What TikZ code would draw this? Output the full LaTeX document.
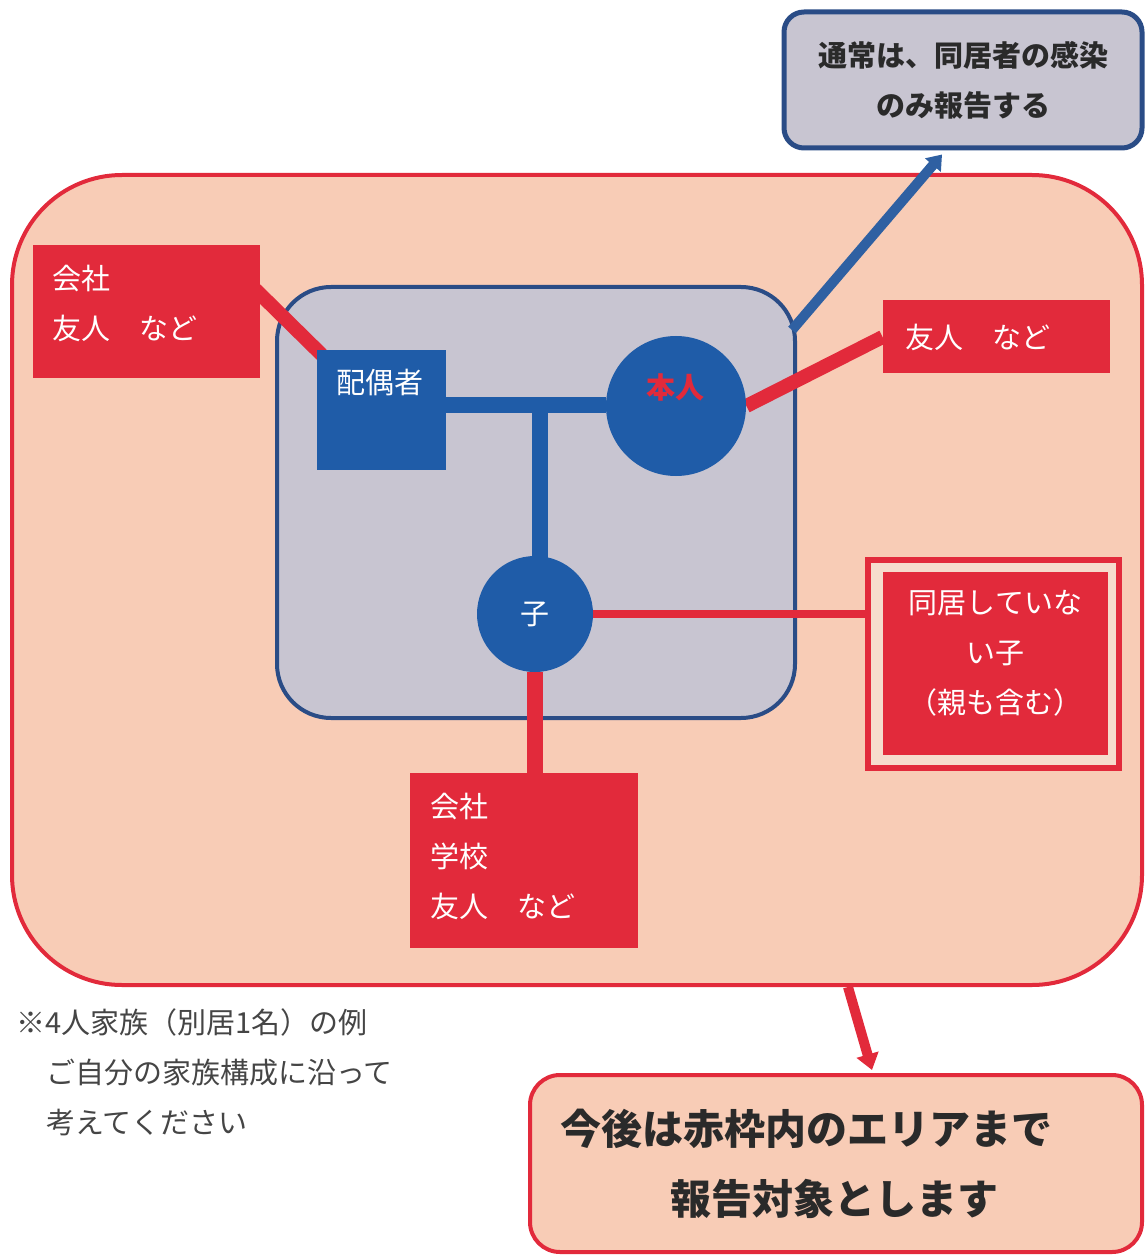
\documentclass[tikz,border=0pt]{standalone}
\usepackage{fontspec}
\setmainfont{Noto Sans CJK JP}
\usetikzlibrary{arrows.meta,calc}

\definecolor{momo}{HTML}{F8CCB6}
\definecolor{usumomo}{HTML}{F6DCCD}
\definecolor{aka}{HTML}{E22A3B}
\definecolor{ai}{HTML}{1F5CA8}
\definecolor{aiya}{HTML}{2F60A2}
\definecolor{kon}{HTML}{2A4C86}
\definecolor{nezumi}{HTML}{C8C5D1}
\definecolor{sumi}{HTML}{2A2A2A}
\definecolor{hai}{HTML}{454545}

\pgfdeclarelayer{haikei}
\pgfdeclarelayer{sen}
\pgfsetlayers{haikei,sen,main}

\begin{document}
\begin{tikzpicture}[x=0.5pt,y=-0.5pt]

\newcommand{\moji}{\fontsize{14.5pt}{25pt}\selectfont}
\newcommand{\oomoji}{\fontsize{20.5pt}{35pt}\selectfont\bfseries}

\tikzstyle{akabako}=[rectangle,fill=aka,text=white,inner sep=0,align=left,font=\moji]
\tikzstyle{shiromoji}=[inner sep=0,text=white,align=left,font=\moji]
\tikzstyle{aimaru}=[circle,fill=ai,inner sep=0]
\tikzstyle{akasen}=[aka,line width=7pt]
\tikzstyle{aisen}=[ai,line width=8pt]
\tikzstyle{yajirushi}=[line width=5pt,-{Triangle[length=8pt,width=11pt]}]

\useasboundingbox (0,0) rectangle (1144,1256);

\begin{pgfonlayer}{haikei}
    \node[rectangle,draw=aka,fill=momo,line width=2pt,rounded corners=55pt,
          minimum width=565pt,minimum height=405pt] (waku) at (577,580) {};
    \node[rectangle,draw=kon,fill=nezumi,line width=2pt,rounded corners=27pt,
          minimum width=259pt,minimum height=215.5pt] (kazoku) at (536,502.5) {};
\end{pgfonlayer}

\node[rectangle,draw=kon,fill=nezumi,line width=2.5pt,rounded corners=10pt,
      minimum width=179pt,minimum height=68pt,align=center,text=sumi,
      font=\moji\bfseries] (tsujo) at (963,80) {通常は、同居者の感染\\のみ報告する};

\node[rectangle,fill=ai,inner sep=0,minimum width=64.5pt,minimum height=60pt] (haigu) at (381.5,410) {};
\node[text=white,font=\moji] (haigumoji) at (380,383) {配偶者};

\node[aimaru,minimum size=70pt] (honnin) at (676,406) {};
\node[text=aka,font=\moji\bfseries] (honninmoji) at (675,387) {本人};

\node[aimaru,minimum size=58pt,text=white,font=\moji] (ko) at (535,614) {子};

\node[akabako,minimum width=113.5pt,minimum height=66.5pt] (kaisha1) at (146.5,311.5) {};
\node[shiromoji,text width=94pt] (kaisha1moji) at ($(kaisha1)+(0,-8)$) {会社\\友人　など};

\node[akabako,minimum width=113.5pt,minimum height=36.5pt,text width=91.5pt] (yujin2) at (996.5,337) {友人　など};

\node[akabako,minimum width=114pt,minimum height=87.5pt] (kaisha3) at (524,860.5) {};
\node[shiromoji,text width=94pt] (kaisha3moji) at ($(kaisha3)+(0,-4)$) {会社\\学校\\友人　など};

\node[rectangle,draw=aka,fill=usumomo,line width=3pt,minimum width=125.5pt,minimum height=104pt] (betsukyo) at (993.5,664) {};
\node[akabako,minimum width=112.5pt,minimum height=91.5pt] (betsukyoin) at (995.5,663.5) {};
\node[shiromoji,align=center,text width=112.5pt] (betsukyomoji) at ($(betsukyoin)+(0,-10)$) {同居していな\\い子\\（親も含む）};

\node[rectangle,draw=aka,fill=momo,line width=2pt,rounded corners=15pt,
      minimum width=306pt,minimum height=88.5pt,inner sep=0,text width=276pt,
      align=left,text=sumi,font=\oomoji] (matome) at (836,1163.5)
      {今後は赤枠内のエリアまで\\\hspace*{55pt}報告対象とします};

\node[anchor=north west,inner sep=0,align=left,text=hai,font=\moji] (chui) at (16,1008)
      {※4人家族（別居1名）の例\\\hspace*{15pt}ご自分の家族構成に沿って\\\hspace*{15pt}考えてください};

\coordinate (bunki) at (540,405);
\coordinate (yane) at (792,330);

\begin{pgfonlayer}{sen}
    \draw[aisen] (haigu.east |- bunki) -- (honnin.west |- bunki);
    \draw[aisen] (bunki) -- (bunki |- ko);
    \draw[akasen] ($(kaisha1.east)+(-5,-22)$) -- ($(haigu.north west)+(5,5)$);
    \draw[akasen] (honnin.east) -- (yujin2.west);
    \draw[aka,line width=4pt] (ko.east) -- (ko.east -| betsukyo.west);
    \draw[aka,line width=8pt] (ko) -- (ko |- kaisha3.north);
    \draw[yajirushi,aiya,-{Triangle[length=7pt,width=10pt]}] (yane) -- ($(tsujo.south)+(-21,4)$);
    \draw[yajirushi,aka] ($(waku.south)+(271,0)$) -- ($(matome.north)+(36,-3)$);
\end{pgfonlayer}

\end{tikzpicture}
\end{document}
